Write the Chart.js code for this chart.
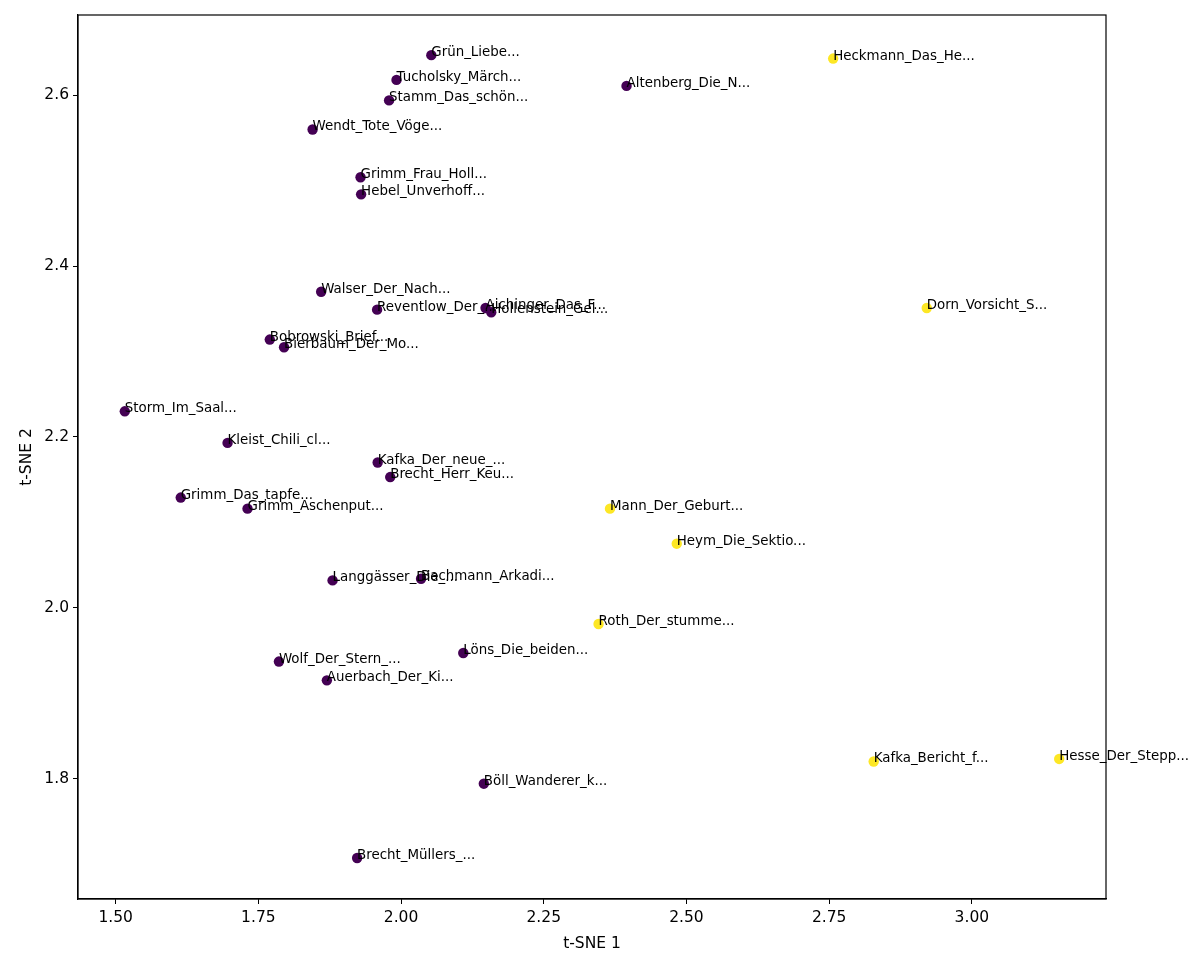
<!DOCTYPE html>
<html>
<head>
<meta charset="utf-8">
<script src="https://cdn.jsdelivr.net/npm/chart.js@4/dist/chart.umd.min.js"></script>
<style>
    html, body { margin: 0; padding: 0; background: #fff; }
    #wrap { width: 1200px; height: 962px; }
</style>
</head>
<body>
<div id="wrap"><canvas id="tsneChart"></canvas></div>
<script>
// t-SNE coordinates
const names = [
    'Grün_Liebe...', 'Tucholsky_Märch...', 'Stamm_Das_schön...', 'Wendt_Tote_Vöge...',
    'Grimm_Frau_Holl...', 'Hebel_Unverhoff...', 'Altenberg_Die_N...', 'Heckmann_Das_He...',
    'Dorn_Vorsicht_S...', 'Walser_Der_Nach...', 'Reventlow_Der_...', 'Aichinger_Das_F...',
    'Hollenstein_Gel...', 'Bobrowski_Brief...', 'Bierbaum_Der_Mo...', 'Storm_Im_Saal...',
    'Kleist_Chili_cl...', 'Kafka_Der_neue_...', 'Brecht_Herr_Keu...', 'Grimm_Das_tapfe...',
    'Grimm_Aschenput...', 'Langgässer_Die_...', 'Bachmann_Arkadi...', 'Roth_Der_stumme...',
    'Löns_Die_beiden...', 'Wolf_Der_Stern_...', 'Auerbach_Der_Ki...', 'Böll_Wanderer_k...',
    'Brecht_Müllers_...', 'Mann_Der_Geburt...', 'Heym_Die_Sektio...', 'Kafka_Bericht_f...',
    'Hesse_Der_Stepp...'
];
const xs = [
    2.053, 1.992, 1.979, 1.845,
    1.929, 1.930, 2.395, 2.757,
    2.921, 1.860, 1.958, 2.148,
    2.158, 1.770, 1.795, 1.516,
    1.696, 1.959, 1.981, 1.614,
    1.731, 1.880, 2.035, 2.346,
    2.109, 1.786, 1.870, 2.145,
    1.923, 2.366, 2.483, 2.828,
    3.153
];
const ys = [
    2.647, 2.618, 2.594, 2.560,
    2.504, 2.484, 2.611, 2.643,
    2.351, 2.370, 2.349, 2.351,
    2.346, 2.314, 2.305, 2.230,
    2.193, 2.170, 2.153, 2.129,
    2.116, 2.032, 2.034, 1.981,
    1.947, 1.937, 1.915, 1.794,
    1.707, 2.116, 2.075, 1.820,
    1.823
];
// 0 = purple group, 1 = yellow group
const cluster = [
    0, 0, 0, 0,
    0, 0, 0, 1,
    1, 0, 0, 0,
    0, 0, 0, 0,
    0, 0, 0, 0,
    0, 0, 0, 1,
    0, 0, 0, 0,
    0, 1, 1, 1,
    1
];
const xTicks = [1.50, 1.75, 2.00, 2.25, 2.50, 2.75, 3.00];
const yTicks = [1.8, 2.0, 2.2, 2.4, 2.6];

const clusterColors = ['#440154', '#fde725'];
const fontFamily = '"DejaVu Sans", sans-serif';

const points = names.map((name, i) => ({ x: xs[i], y: ys[i], name: name }));
const pointColors = cluster.map(c => clusterColors[c]);

// draws the frame around the plot area and the text next to every point
const annotatePlugin = {
    id: 'annotate',
    afterDatasetsDraw(chart) {
        const ctx = chart.ctx;
        const area = chart.chartArea;
        const xScale = chart.scales.x;
        const yScale = chart.scales.y;

        ctx.save();
        ctx.strokeStyle = '#000';
        ctx.lineWidth = 1.2;
        ctx.strokeRect(area.left, area.top, area.right - area.left, area.bottom - area.top);

        ctx.fillStyle = '#000';
        ctx.font = '13.4px ' + fontFamily;
        ctx.textAlign = 'left';
        ctx.textBaseline = 'alphabetic';
        points.forEach(p => {
            const px = xScale.getPixelForValue(p.x);
            const py = yScale.getPixelForValue(p.y);
            ctx.fillText(p.name, px, py + 1);
        });
        ctx.restore();
    }
};

const ctx = document.getElementById('tsneChart').getContext('2d');
new Chart(ctx, {
    type: 'scatter',
    data: {
        datasets: [{
            label: 'texts',
            data: points,
            backgroundColor: pointColors,
            borderColor: pointColors,
            borderWidth: 0,
            pointRadius: 5.2,
            pointHoverRadius: 5.2
        }]
    },
    options: {
        responsive: true,
        maintainAspectRatio: false,
        animation: false,
        layout: {
            padding: { top: 15, right: 94, left: 0, bottom: 0 }
        },
        plugins: {
            legend: { display: false },
            tooltip: { enabled: false }
        },
        scales: {
            x: {
                type: 'linear',
                min: 1.434,
                max: 3.235,
                afterFit: scale => { scale.height = 63; },
                afterBuildTicks: scale => { scale.ticks = xTicks.map(v => ({ value: v })); },
                grid: {
                    drawOnChartArea: false,
                    drawTicks: true,
                    tickLength: 5,
                    color: '#000',
                    tickWidth: 1
                },
                border: { display: true, color: '#000', width: 1.2 },
                ticks: {
                    padding: 5,
                    color: '#000',
                    font: { family: fontFamily, size: 15.5 },
                    maxRotation: 0,
                    callback: v => v.toFixed(2)
                },
                title: {
                    display: true,
                    text: 't-SNE 1',
                    color: '#000',
                    font: { family: fontFamily, size: 15.5 },
                    padding: { top: 0, bottom: 9 }
                }
            },
            y: {
                type: 'linear',
                min: 1.659,
                max: 2.694,
                afterFit: scale => { scale.width = 78; },
                afterBuildTicks: scale => { scale.ticks = yTicks.map(v => ({ value: v })); },
                grid: {
                    drawOnChartArea: false,
                    drawTicks: true,
                    tickLength: 5,
                    color: '#000',
                    tickWidth: 1
                },
                border: { display: true, color: '#000', width: 1.2 },
                ticks: {
                    padding: 4,
                    color: '#000',
                    font: { family: fontFamily, size: 15.5 },
                    callback: v => v.toFixed(1)
                },
                title: {
                    display: true,
                    text: 't-SNE 2',
                    color: '#000',
                    font: { family: fontFamily, size: 15.5 },
                    padding: { top: 18, bottom: 0 }
                }
            }
        }
    },
    plugins: [annotatePlugin]
});
</script>
</body>
</html>
